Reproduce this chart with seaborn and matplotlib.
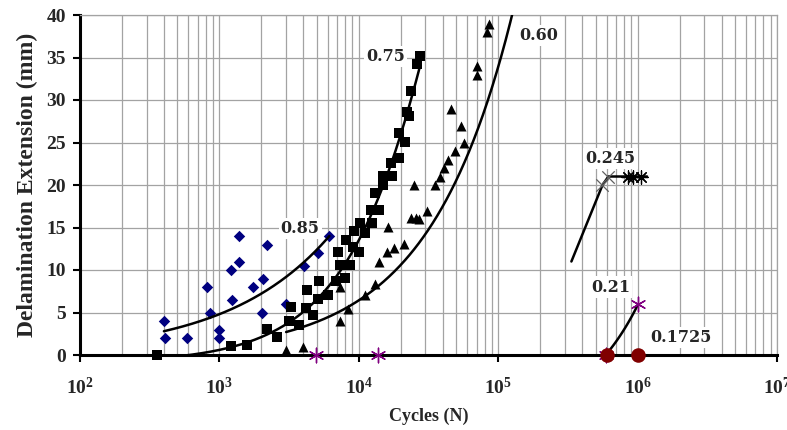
import numpy as np
import pandas as pd
import matplotlib
matplotlib.use("Agg")
import matplotlib.pyplot as plt
import seaborn as sns
from matplotlib.ticker import LogLocator, FixedLocator, NullFormatter

# ---------------- data ----------------
# 0.85 series (navy diamonds)
n_085 = [400, 410, 590, 820, 860, 1000, 1000, 1230, 1210, 1380, 1380, 1750,
         2060, 2030, 2200, 3000, 4050, 5100, 6150]
y_085 = [4, 2, 2, 8, 5, 3, 2, 6.5, 10, 11, 14, 8, 9, 5, 13, 6, 10.5, 12, 14]

# 0.75 series (black squares)
n_075 = [357, 1210, 1580, 2200, 2600, 3160, 3270, 3740, 4190, 4260,
         4710, 5110, 5200, 6030, 6890, 7110, 7350, 7980, 8120, 8670,
         9120, 9270, 10070, 10240, 11120, 12480, 12280, 14000, 13120, 14970,
         14970, 17370, 17100, 19500, 21550, 19500, 23020, 22250, 23770, 26240,
         27600]
y_075 = [0, 1.1, 1.2, 3.1, 2.1, 4, 5.6, 3.5, 5.5, 7.6,
         4.7, 6.6, 8.7, 7.1, 8.7, 12.1, 10.6, 9.1, 13.5, 10.6,
         12.7, 14.6, 12.1, 15.5, 14.4, 15.5, 17.1, 17.1, 19.1, 20,
         21.1, 21.1, 22.6, 23.2, 25.1, 26.1, 28.1, 28.6, 31.1, 34.2,
         35.2]

# 0.60 series (black triangles)
n_060 = [3010, 3990, 7350, 7350, 8390, 11000, 13000, 14000, 16000, 17950,
         21200, 16250, 23800, 25800, 27200, 31000, 25000, 35300, 38400, 41000,
         43800, 49200, 57000, 54300, 46000, 70800, 70800, 83500, 86300]
y_060 = [0.6, 1, 4, 8, 5.4, 7.1, 8.4, 11, 12.1, 12.6,
         13.1, 15.1, 16.1, 16.1, 16, 17, 20, 20, 21, 22,
         23, 24, 25, 27, 29, 34, 33, 38, 39]

# trendline coefficients
# power law y = a * N**b
trend_085_a, trend_085_b = 0.0821, 0.589
trend_085_range = [400, 6150]
# quadratic y = c2*N**2 + c1*N + c0
trend_075_coef = [-9.88e-9, 1.542e-3, -0.932]
trend_075_range = [357, 27600]
trend_060_a, trend_060_b = 0.00832, 0.722
trend_060_range = [3010, 130000]

# 0.245 series
n_0245_x = [560000, 617000]
y_0245_x = [20, 21]
n_0245_star = [860000, 930000, 1050000]
y_0245_star = [21, 21, 21]
n_0245_line = [335000, 560000, 617000, 1170000]
y_0245_line = [11, 20, 21, 21]

# 0.21 series (purple asterisks)
n_021 = [4940, 13800, 590000, 1010000]
y_021 = [0, 0, 0, 6]

# 0.1725 series (dark red circles)
n_01725 = [607000, 1000000]
y_01725 = [0, 0]

# curve labels
label_text = ["0.85", "0.75", "0.60", "0.245", "0.21", "0.1725"]
label_n = [3800, 15500, 194000, 638000, 638000, 2.06e6]
label_y = [14.9, 35.1, 37.6, 23.1, 8.0, 2.1]

x_ticks = [1e2, 1e3, 1e4, 1e5, 1e6, 1e7]
x_tick_labels = [r"$\mathbf{10^{2}}$", r"$\mathbf{10^{3}}$", r"$\mathbf{10^{4}}$",
                 r"$\mathbf{10^{5}}$", r"$\mathbf{10^{6}}$", r"$\mathbf{10^{7}}$"]
y_ticks = [0, 5, 10, 15, 20, 25, 30, 35, 40]

# ---------------- style ----------------
sns.set_theme(style="white")
plt.rcParams['font.family'] = ['Liberation Serif', 'DejaVu Serif']
plt.rcParams['mathtext.fontset'] = 'custom'
plt.rcParams['mathtext.rm'] = 'Liberation Serif:bold'
plt.rcParams['mathtext.bf'] = 'Liberation Serif:bold'
plt.rcParams['mathtext.it'] = 'Liberation Serif:bold'

fig = plt.figure(figsize=(7.87, 4.30), dpi=100)
ax = fig.add_axes([80 / 787, 1 - 355 / 430, 697 / 787, 340 / 430])
ax.set_xscale('log')
ax.set_xlim(1e2, 1e7)
ax.set_ylim(0, 40)

grid_c = '#a3a3a3'
ax.xaxis.set_major_locator(FixedLocator(x_ticks))
ax.xaxis.set_minor_locator(LogLocator(base=10, subs=range(2, 10)))
ax.xaxis.set_minor_formatter(NullFormatter())
ax.set_xticks(x_ticks)
ax.set_xticklabels(x_tick_labels)
ax.set_yticks(y_ticks)
ax.grid(True, which='both', axis='x', color=grid_c, lw=0.9)
ax.grid(True, which='major', axis='y', color=grid_c, lw=0.9)
ax.set_axisbelow(True)

for s in ['top', 'right']:
    ax.spines[s].set_color(grid_c)
    ax.spines[s].set_linewidth(0.9)
for s in ['left', 'bottom']:
    ax.spines[s].set_color('black')
    ax.spines[s].set_linewidth(2.2)
    ax.spines[s].set_zorder(2.5)

ax.tick_params(axis='x', which='major', length=5, width=1.5, direction='out',
               pad=11, labelsize=14, color='black', bottom=True)
ax.tick_params(axis='x', which='minor', length=0)
ax.tick_params(axis='y', which='major', length=5, width=1.5, direction='out',
               pad=5, labelsize=14, color='black', left=True)
for lab in ax.get_yticklabels():
    lab.set_fontweight('bold')

# ---------------- trendlines ----------------
xx = np.geomspace(*trend_085_range, 200)
ax.plot(xx, trend_085_a * xx ** trend_085_b, color='black', lw=1.8, zorder=4)

xx = np.geomspace(*trend_075_range, 300)
ax.plot(xx, np.polyval(trend_075_coef, xx), color='black', lw=1.8, zorder=4)

xx = np.geomspace(*trend_060_range, 300)
ax.plot(xx, trend_060_a * xx ** trend_060_b, color='black', lw=1.8, zorder=4)

# 0.21: linear trend through its last two points
c021 = np.polyfit(n_021[-2:], y_021[-2:], 1)
xx = np.geomspace(n_021[-2], n_021[-1], 100)
ax.plot(xx, np.polyval(c021, xx), color='black', lw=1.8, zorder=4)

ax.plot(n_0245_line, y_0245_line, color='black', lw=1.8, zorder=4)

# ---------------- markers ----------------
sns.scatterplot(x=n_085, y=y_085, marker='D', color='#000080', s=34,
                linewidth=0, ax=ax, zorder=3, clip_on=False)
sns.scatterplot(x=n_075, y=y_075, marker='s', color='black', s=46,
                linewidth=0, ax=ax, zorder=3, clip_on=False)
sns.scatterplot(x=n_060, y=y_060, marker='^', color='black', s=52,
                linewidth=0, ax=ax, zorder=3, clip_on=False)
ax.scatter(n_0245_x, y_0245_x, marker='x', color='#606060', s=80,
           linewidths=0.9, zorder=5)
ax.scatter(n_0245_star, y_0245_star, marker=(8, 2, 0), color='black', s=90,
           linewidths=0.9, zorder=5)
ax.scatter(n_021, y_021, marker=(6, 2, 0), color='#800080', s=110,
           linewidths=1.0, zorder=5, clip_on=False)
sns.scatterplot(x=n_01725, y=y_01725, marker='o', color='#800000', s=110,
                linewidth=0, ax=ax, zorder=6, clip_on=False)

# ---------------- labels ----------------
for t, xn, yv in zip(label_text, label_n, label_y):
    ax.text(xn, yv, t, ha='center', va='center', fontsize=11.5,
            fontweight='bold', family=['DejaVu Serif'], zorder=7,
            bbox=dict(facecolor='white', edgecolor='none', pad=1.5))

ax.set_xlabel('Cycles (N)', fontsize=13, fontweight='bold', labelpad=7)
ax.set_ylabel('Delamination Extension (mm)', fontsize=17, fontweight='bold',
              labelpad=6)

fig.savefig('out.png', dpi=100)
